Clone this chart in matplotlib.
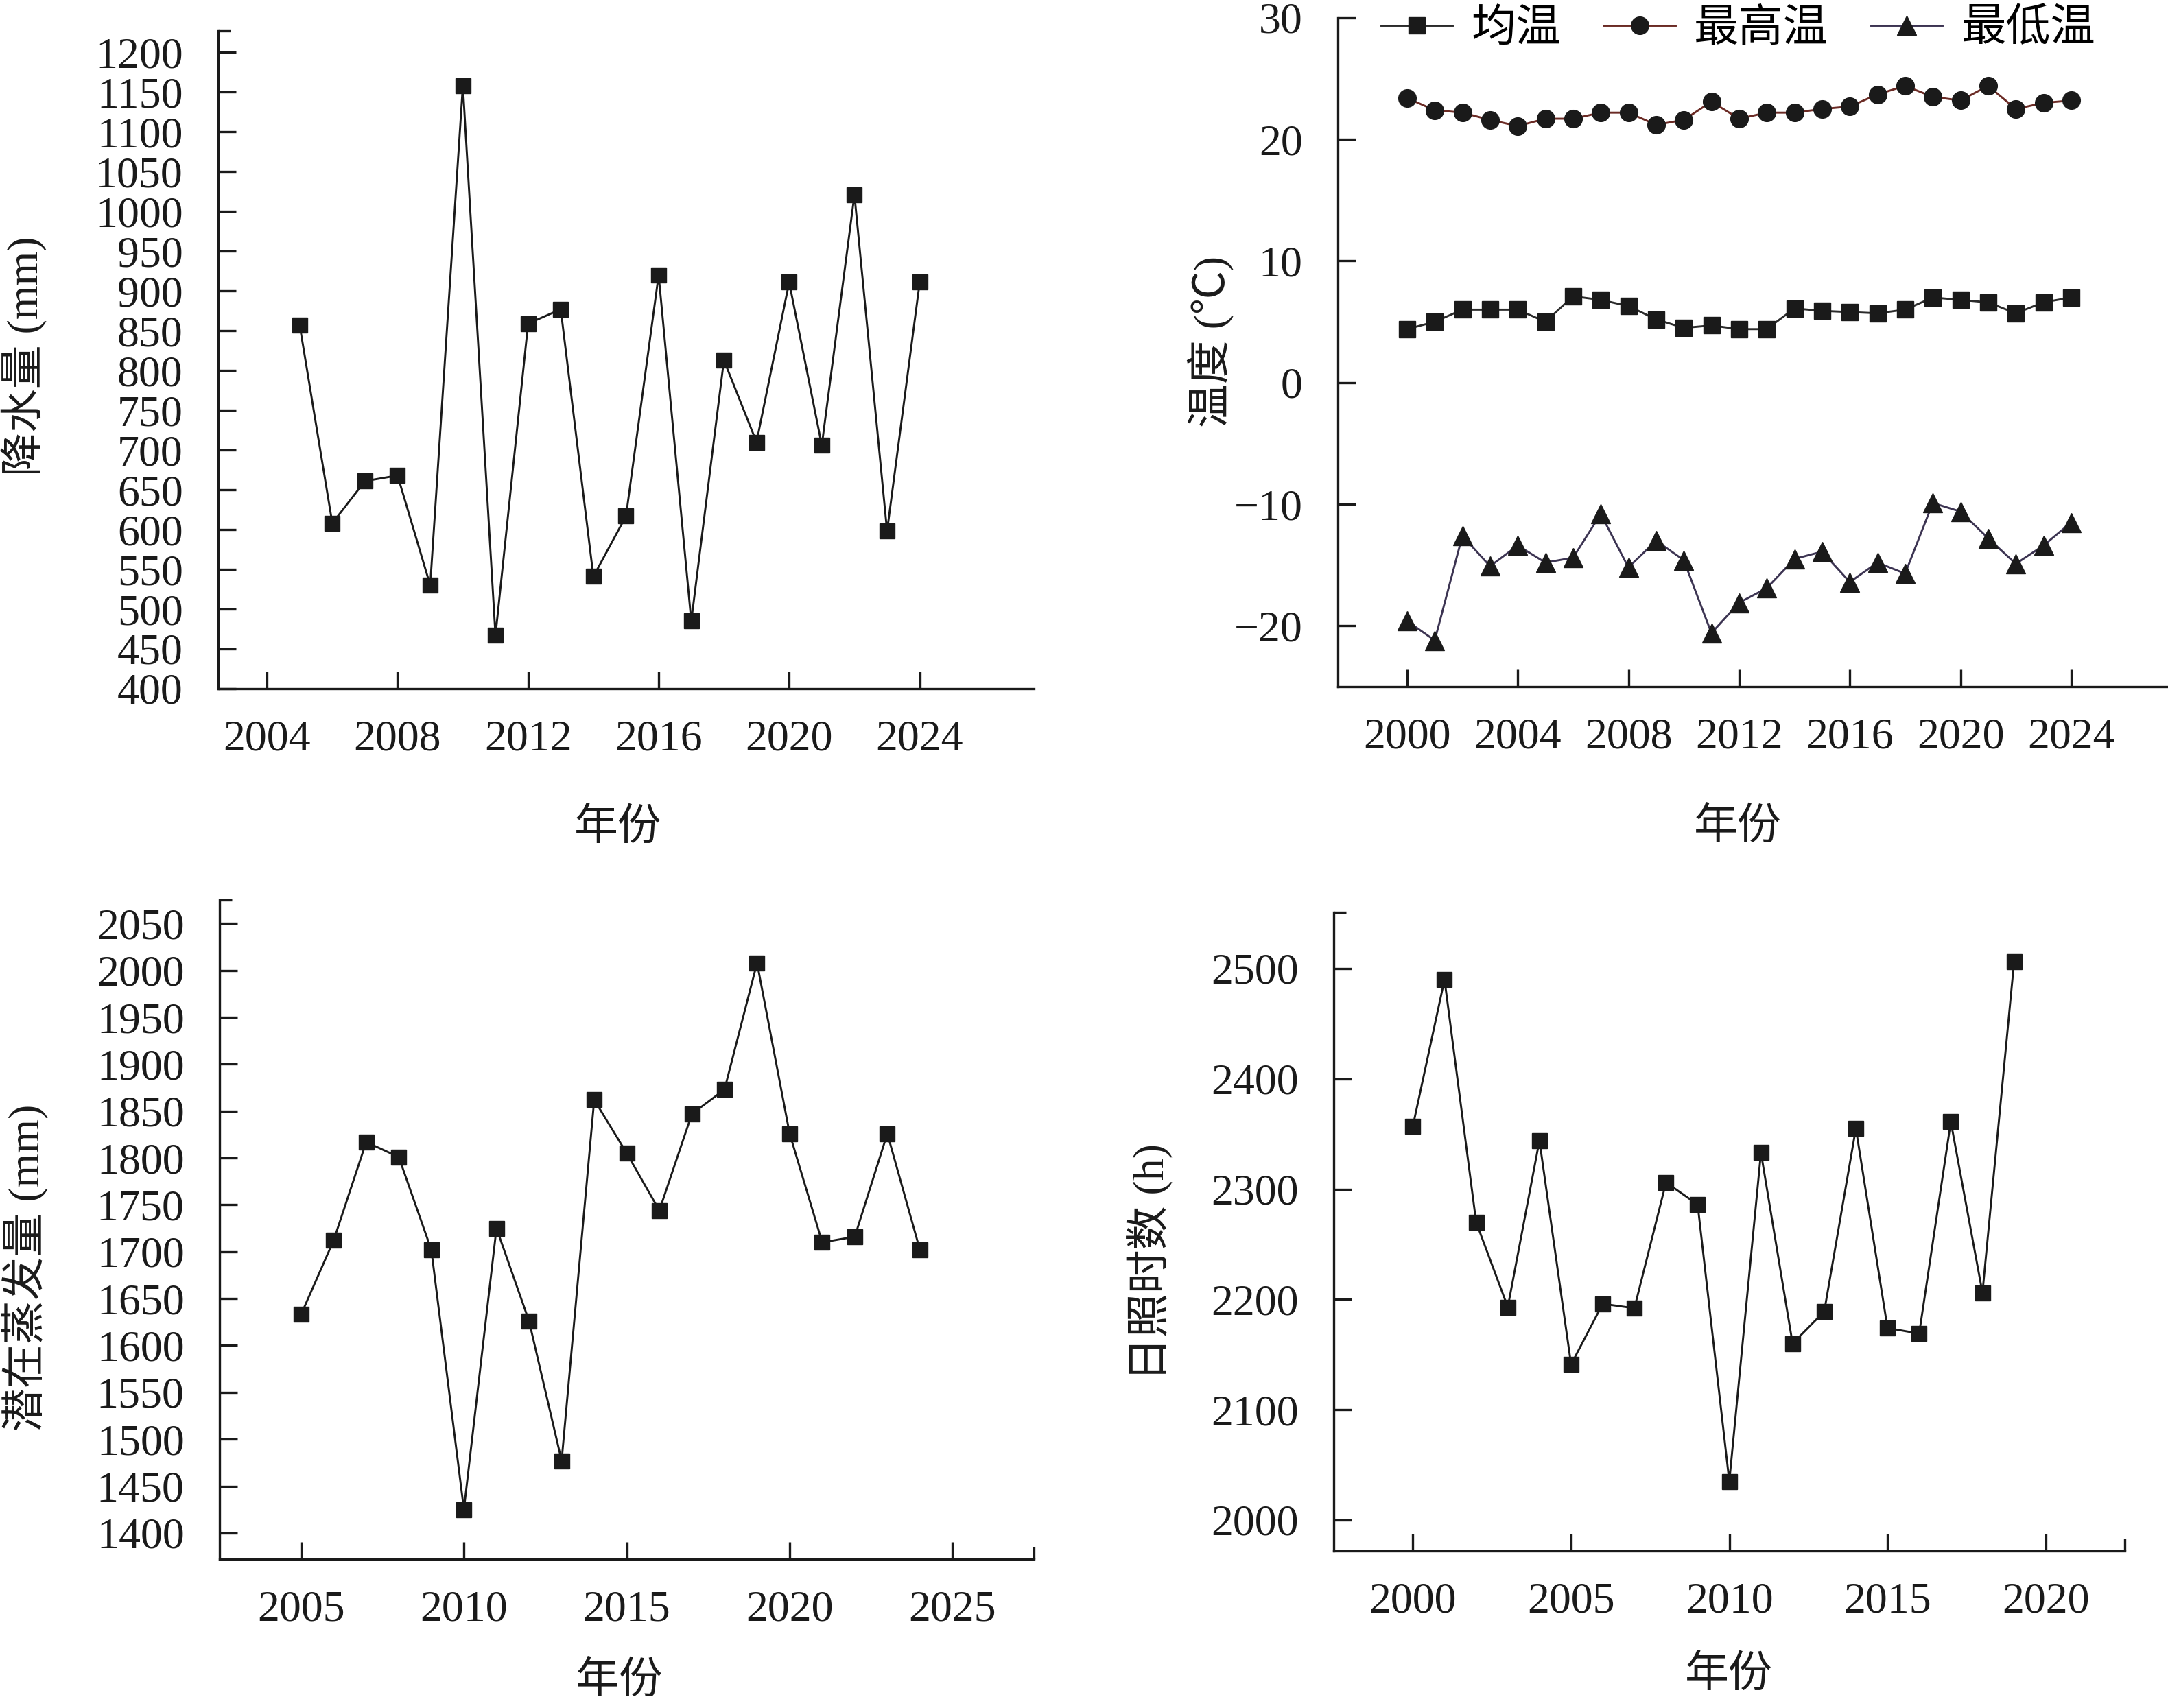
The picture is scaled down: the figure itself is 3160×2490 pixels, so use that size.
import matplotlib
matplotlib.use('Agg')
import matplotlib.pyplot as plt

plt.rcParams['font.family'] = ['Liberation Serif', 'Noto Sans CJK SC']
plt.rcParams['axes.unicode_minus'] = True

# ---- data ----
precip_years = list(range(2005, 2025))
precip = [857, 608, 661, 668, 530, 1158, 467, 859, 877, 541,
          617, 920, 485, 813, 710, 911, 706, 1021, 598, 911]

temp_years = list(range(2000, 2025))
t_mean = [4.4, 5.0, 6.0, 6.0, 6.0, 5.0, 7.1, 6.8, 6.3, 5.2, 4.5, 4.7, 4.4,
          4.4, 6.1, 5.9, 5.8, 5.7, 6.0, 7.0, 6.8, 6.6, 5.7, 6.6, 7.0]
t_max = [23.4, 22.4, 22.2, 21.6, 21.1, 21.7, 21.7, 22.2, 22.2, 21.2, 21.6, 23.1, 21.7,
         22.2, 22.2, 22.5, 22.7, 23.7, 24.4, 23.5, 23.2, 24.4, 22.5, 23.0, 23.2]
t_min = [-19.6, -21.2, -12.6, -15.1, -13.4, -14.8, -14.4, -10.8, -15.2, -13.0, -14.6, -20.6, -18.1,
         -16.9, -14.5, -13.9, -16.4, -14.8, -15.7, -9.9, -10.6, -12.8, -14.9, -13.4, -11.5]
temp_labels = ['均温', '最高温', '最低温']

pet_years = list(range(2005, 2025))
pet = [1633, 1712, 1817, 1801, 1702, 1425, 1725, 1626, 1477, 1862,
       1805, 1744, 1847, 1873, 2008, 1826, 1710, 1716, 1826, 1702]

sun_years = list(range(2000, 2020))
sunshine = [2357, 2490, 2270, 2193, 2344, 2141, 2196, 2192, 2306, 2286,
            2035, 2333, 2160, 2189, 2355, 2174, 2169, 2361, 2206, 2506]

TICK_FS = 46
LABEL_FS = 46
INK = '#1a1a1a'
LW = 2.1


def style_axis(ax, xlim, ylim, xticks, yticks, end_ticks=()):
    """Origin-like look: left/bottom spines, inward ticks, serif numbers."""
    ax.set_xlim(*xlim)
    ax.set_ylim(*ylim)
    ax.set_xticks(xticks)
    ax.set_yticks(yticks)
    for side in ('top', 'right'):
        ax.spines[side].set_visible(False)
    for side in ('left', 'bottom'):
        ax.spines[side].set_linewidth(2.4)
        ax.spines[side].set_color(INK)
    ax.tick_params(axis='x', direction='in', length=18, width=2.4, color=INK,
                   labelsize=TICK_FS, pad=33, labelcolor=INK)
    ax.tick_params(axis='y', direction='in', length=19, width=2.4, color=INK,
                   labelsize=TICK_FS, pad=37, labelcolor=INK)
    # short stubs at the axis ends
    if 'top' in end_ticks:
        ax.set_yticks([ylim[1]], minor=True)
    if 'right' in end_ticks:
        ax.set_xticks([xlim[1]], minor=True)
    ax.tick_params(which='minor', direction='in', length=13, width=2.4, color=INK,
                   labelleft=False, labelbottom=False)


def place_labels(ax, xlabel, ylabel, xpos, ypos):
    ax.set_xlabel(xlabel, fontsize=LABEL_FS, va='center', color=INK)
    ax.set_ylabel(ylabel, fontsize=LABEL_FS, va='center', color=INK)
    ax.xaxis.set_label_coords(*xpos)
    ax.yaxis.set_label_coords(*ypos)


fig = plt.figure(figsize=(31.6, 24.9), dpi=100)

ax1 = fig.add_axes([0.1006, 0.5968, 0.3763, 0.3851])
ax2 = fig.add_axes([0.6171, 0.5980, 0.3829, 0.3916])
ax3 = fig.add_axes([0.1013, 0.0871, 0.3756, 0.3859])
ax4 = fig.add_axes([0.6152, 0.0920, 0.3649, 0.3739])

# precipitation
ax1.plot(precip_years, precip, '-s', color=INK, lw=LW, ms=16.5,
         mfc=INK, mec=INK, clip_on=False)
style_axis(ax1, (2002.5, 2027.5), (400, 1227), range(2004, 2025, 4),
           range(400, 1201, 50), end_ticks=('top',))
place_labels(ax1, '年份', '降水量 (mm)', (0.490, -0.214), (-0.237, 0.505))

# temperature
ax2.plot(temp_years, t_mean, '-s', color='#2b2b2b', lw=LW, ms=17,
         mfc=INK, mec=INK, label=temp_labels[0], clip_on=False)
ax2.plot(temp_years, t_max, '-o', color='#6b2b25', lw=LW, ms=18.5,
         mfc=INK, mec=INK, label=temp_labels[1], clip_on=False)
ax2.plot(temp_years, t_min, '-^', color='#3c3452', lw=LW, ms=20,
         mfc=INK, mec=INK, label=temp_labels[2], clip_on=False)
style_axis(ax2, (1997.5, 2027.5), (-25, 30), range(2000, 2025, 4),
           range(-20, 31, 10))
place_labels(ax2, '年份', '温度 (℃)', (0.482, -0.213), (-0.153, 0.516))
ax2.legend(loc='center left', bbox_to_anchor=(0.052, 0.982), ncol=3,
           frameon=False, fontsize=47, handlelength=1.6, handletextpad=0.42,
           columnspacing=0.95, borderpad=0, borderaxespad=0)

# potential evaporation
ax3.plot(pet_years, pet, '-s', color=INK, lw=LW, ms=16.5,
         mfc=INK, mec=INK, clip_on=False)
style_axis(ax3, (2002.5, 2027.5), (1372, 2075), range(2005, 2026, 5),
           range(1400, 2051, 50), end_ticks=('top', 'right'))
place_labels(ax3, '年份', '潜在蒸发量 (mm)', (0.491, -0.188), (-0.239, 0.442))

# sunshine hours
ax4.plot(sun_years, sunshine, '-s', color=INK, lw=LW, ms=16.5,
         mfc=INK, mec=INK, clip_on=False)
style_axis(ax4, (1997.5, 2022.5), (1972, 2551), range(2000, 2021, 5),
           range(2000, 2501, 100), end_ticks=('top', 'right'))
place_labels(ax4, '年份', '日照时数 (h)', (0.499, -0.197), (-0.232, 0.452))

fig.savefig('out.png', dpi=100)
plt.close(fig)
